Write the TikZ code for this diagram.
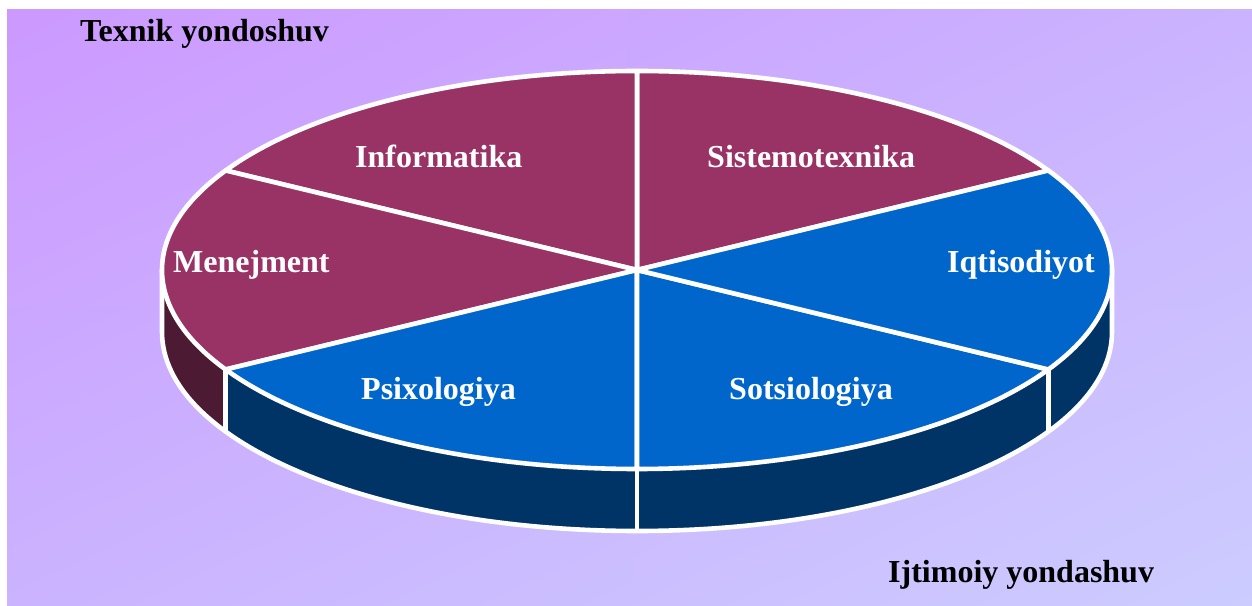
\documentclass[tikz,border=0pt]{standalone}
\usepackage{fontspec}
\setmainfont{Liberation Serif}
\usetikzlibrary{calc,shadings}
\definecolor{bgA}{HTML}{CC99FF}
\definecolor{bgM}{HTML}{CBB3FF}
\definecolor{bgB}{HTML}{CCCCFF}
\definecolor{maroon}{HTML}{993366}
\definecolor{blueS}{HTML}{0066CC}
\definecolor{sideB}{HTML}{003366}
\definecolor{sideM}{HTML}{4C1A33}
\tikzset{
  sector/.style={draw=white, line width=4.6pt, line join=round},
  edge/.style={draw=white, line width=4.6pt, line join=round},
  lbl/.style={inner sep=0pt, font=\fontsize{32}{36}\selectfont\bfseries},
  wl/.style={lbl, text=white},
  bl/.style={lbl, text=black}
}
\begin{document}
\begin{tikzpicture}[x=1pt,y=1pt]
\useasboundingbox (0,0) rectangle (1252,605);
\shade[upper left=bgA, upper right=bgM, lower left=bgM, lower right=bgB] (7,0) rectangle (1252,595);
\coordinate (c) at (637,335);
\def\rx{475}\def\ry{199}\def\dd{62}
% sides
\fill[sideM] ($(c)+(180:\rx pt and \ry pt)$) arc[start angle=180,end angle=210,x radius=\rx,y radius=\ry] -- ++(0,-\dd) arc[start angle=210,end angle=180,x radius=\rx,y radius=\ry] -- cycle;
\fill[sideB] ($(c)+(210:\rx pt and \ry pt)$) arc[start angle=210,end angle=360,x radius=\rx,y radius=\ry] -- ++(0,-\dd) arc[start angle=360,end angle=210,x radius=\rx,y radius=\ry] -- cycle;
\draw[edge] ($(c)+(180:\rx pt and \ry pt)$) -- ++(0,-\dd) arc[start angle=180,end angle=360,x radius=\rx,y radius=\ry] -- ++(0,\dd);
\foreach \a in {210,270,330}{
  \draw[edge] ($(c)+(\a:\rx pt and \ry pt)$) -- ++(0,-\dd);
}
% sectors
\foreach \s/\col in {30/maroon,90/maroon,150/maroon,210/blueS,270/blueS,330/blueS}{
  \pgfmathsetmacro{\e}{\s+60}
  \filldraw[sector, fill=\col] (c) -- ($(c)+(\s:\rx pt and \ry pt)$) arc[start angle=\s,end angle=\e,x radius=\rx,y radius=\ry] -- cycle;
}
% labels
\node[bl, anchor=base west] (tex) at (80,563) {Texnik yondoshuv};
\node[bl, anchor=base west] (ijt) at (888,23) {Ijtimoiy yondashuv};
\node[wl, anchor=base west] (inf) at (355,437) {Informatika};
\node[wl, anchor=base west] (sis) at (707,437) {Sistemotexnika};
\node[wl, anchor=base west] (men) at (173,332) {Menejment};
\node[wl, anchor=base east] (iqt) at (1095,332) {Iqtisodiyot};
\node[wl, anchor=base west] (psi) at (361,205) {Psixologiya};
\node[wl, anchor=base west] (sot) at (729,205) {Sotsiologiya};
\end{tikzpicture}
\end{document}
